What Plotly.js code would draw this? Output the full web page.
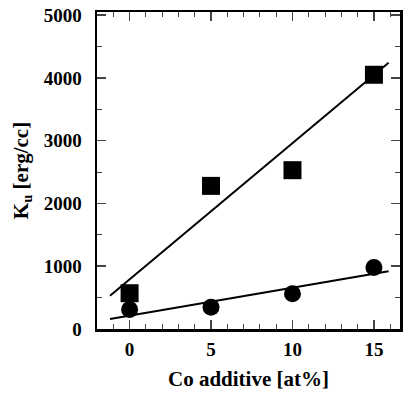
<!DOCTYPE html>
<html><head><meta charset="utf-8">
<script src="https://cdn.plot.ly/plotly-3.0.1.min.js"></script>
<style>html,body{margin:0;padding:0;background:#fff}#c{width:405px;height:393px}</style>
</head><body><div id="c"></div>
<script>
const coAdditive = [0, 5, 10, 15];
const kuSquares = [570, 2280, 2530, 4050];
const kuCircles = [310, 345, 560, 980];
const fitX = [-1.2, 15.9];
const fitSquares = [530, 4240];
const fitCircles = [160, 920];

const font = {family: '"Liberation Serif", "Times New Roman", serif', color: '#000'};
const traces = [
  {x: fitX, y: fitSquares, mode: 'lines', line: {color: '#000', width: 2}, hoverinfo: 'skip'},
  {x: fitX, y: fitCircles, mode: 'lines', line: {color: '#000', width: 2}, hoverinfo: 'skip'},
  {x: coAdditive, y: kuSquares, mode: 'markers', marker: {symbol: 'square', size: 18, color: '#000'}},
  {x: coAdditive, y: kuCircles, mode: 'markers', marker: {symbol: 'circle', size: 17, color: '#000'}}
];
const layout = {
  width: 405, height: 393,
  margin: {l: 97, r: 5, t: 12, b: 64},
  showlegend: false,
  paper_bgcolor: '#fff', plot_bgcolor: '#fff',
  font: font,
  xaxis: {
    range: [-2, 16.6], tickvals: [0, 5, 10, 15], ticks: 'inside', ticklen: 9, tickwidth: 1.5,
    mirror: 'allticks', showline: true, linewidth: 2.5, linecolor: '#000', showgrid: false, zeroline: false,
    tickfont: {size: 19, family: font.family, weight: 'bold'},
    ticklabelstandoff: 2,
    minor: {dtick: 1, tick0: 0, ticks: 'inside', ticklen: 5, tickwidth: 1, showgrid: false},
    title: {text: 'Co additive [at%]', font: {size: 21, family: font.family, weight: 'bold'}, standoff: 12}
  },
  yaxis: {
    range: [0, 5050], tickvals: [0, 1000, 2000, 3000, 4000, 5000], ticks: 'inside', ticklen: 9, tickwidth: 1.5,
    mirror: 'allticks', showline: true, linewidth: 2.5, linecolor: '#000', showgrid: false, zeroline: false,
    tickfont: {size: 19, family: font.family, weight: 'bold'},
    ticklabelstandoff: 9,
    minor: {dtick: 500, tick0: 0, ticks: 'inside', ticklen: 5, tickwidth: 1, showgrid: false},
    title: {text: 'K<sub>u</sub> [erg/cc]', font: {size: 21, family: font.family, weight: 'bold'}, standoff: 10}
  }
};
Plotly.newPlot('c', traces, layout, {displayModeBar: false, staticPlot: true});
</script></body></html>
